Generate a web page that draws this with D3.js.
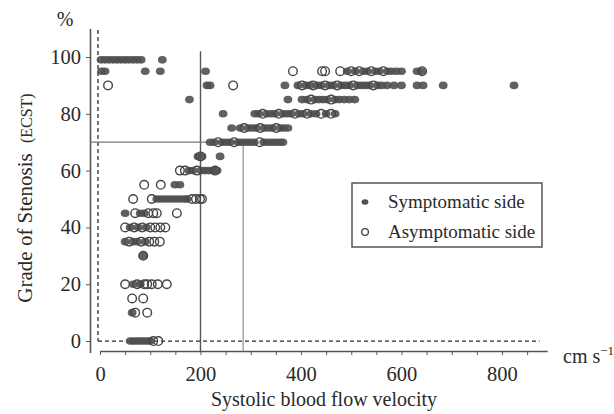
<!DOCTYPE html>
<html>
<head>
<meta charset="utf-8">
<script src="https://cdn.jsdelivr.net/npm/d3@7"></script>
<style>
  body { margin: 0; background: #fff; }
  svg { display: block; font-family: "Liberation Serif", "Times New Roman", serif; }
</style>
</head>
<body>
<svg id="chart" width="614" height="414"></svg>
<script>
// [velocity cm/s, grade of stenosis %]
const symptomatic = [
  [2, 99], [10, 99], [18, 99], [26, 99], [34, 99], [42, 99], [50, 99], [58, 99], [66, 99], [74, 99], [82, 99], [124, 99],
  [3, 95], [10, 95], [90, 95], [120, 95], [210, 95],
  [178, 85], [213, 90],
  [492, 95], [508, 95], [524, 95], [532, 95], [548, 95], [556, 95], [572, 95], [580, 95], [590, 95], [600, 95], [631, 95], [640, 95],
  [219, 90], [368, 90], [394, 90], [410, 90], [418, 90], [432, 90], [440, 90], [456, 90], [464, 90], [480, 90], [488, 90],
  [496, 90], [512, 90], [520, 90], [528, 90], [536, 90], [552, 90], [560, 90], [571, 90], [585, 90], [600, 90], [631, 90],
  [643, 90], [683, 90], [824, 90],
  [374, 85], [402, 85], [412, 85], [428, 85], [436, 85], [444, 85], [452, 85], [468, 85], [476, 85], [486, 85], [496, 85], [507, 85],
  [245, 80], [308, 80], [316, 80], [332, 80], [340, 80], [348, 80], [364, 80], [372, 80], [380, 80], [396, 80], [404, 80],
  [420, 80], [430, 80], [450, 80], [468, 80],
  [262, 75], [279, 75], [295, 75], [303, 75], [311, 75], [327, 75], [335, 75], [343, 75], [359, 75], [366, 75], [374, 75],
  [219, 70], [227, 70], [243, 70], [251, 70], [259, 70], [275, 70], [283, 70], [291, 70], [299, 70], [307, 70], [326, 70],
  [334, 70], [342, 70], [350, 70], [358, 70], [364, 70],
  [195, 65], [203, 65], [239, 65],
  [177, 60], [185, 60], [201, 60], [209, 60], [217, 60], [225, 60], [233, 60],
  [149, 55], [159, 55],
  [113, 50], [121, 50], [129, 50], [137, 50], [145, 50], [153, 50], [161, 50], [169, 50], [173, 50],
  [50, 45], [80, 45], [88, 45],
  [60, 40], [76, 40], [92, 40],
  [50, 35], [66, 35], [74, 35], [90, 35],
  [86, 30],
  [66, 20], [80, 20],
  [64, 10],
  [60, 0], [66, 0], [72, 0], [78, 0], [84, 0], [90, 0], [96, 0], [100, 0]
];

const asymptomatic = [
  [16, 90],
  [384, 95], [442, 95], [448, 95], [478, 95], [500, 95], [516, 95], [540, 95], [564, 95], [641, 95],
  [265, 90], [402, 90], [424, 90], [448, 90], [472, 90], [504, 90], [544, 90],
  [420, 85], [460, 85],
  [324, 80], [356, 80], [388, 80], [412, 80], [440, 80], [460, 80],
  [287, 75], [319, 75], [351, 75],
  [235, 70], [267, 70], [318, 70],
  [200, 65],
  [159, 60], [169, 60], [193, 60], [229, 60],
  [88, 55], [121, 55],
  [66, 50], [103, 50], [183, 50], [191, 50], [199, 50], [203, 50],
  [70, 45], [96, 45], [106, 45], [113, 45], [153, 45],
  [50, 40], [68, 40], [84, 40], [100, 40], [110, 40], [120, 40], [130, 40],
  [58, 35], [82, 35], [98, 35], [108, 35], [119, 35],
  [86, 30],
  [50, 20], [74, 20], [88, 20], [94, 20], [103, 20], [115, 20], [133, 20],
  [64, 15], [86, 15],
  [70, 10], [94, 10],
  [106, 0], [116, 0]
];

const yTicks = [0, 20, 40, 60, 80, 100];
const xTicks = d3.range(0, 900, 50);
const xLabels = [0, 200, 400, 600, 800];
const legendLabels = ["Symptomatic side", "Asymptomatic side"];

const svg = d3.select("#chart");
const ink = "#2a2a2a";

const x = d3.scaleLinear().domain([0, 890]).range([100, 547.2]);
const y = d3.scaleLinear().domain([-4, 110]).range([352.4, 28.6]);

// axes
const yAxis = d3.axisLeft(y)
  .tickValues(yTicks)
  .tickSize(4)
  .tickSizeOuter(0)
  .tickPadding(5);

svg.append("g")
  .attr("transform", "translate(90,0)")
  .call(yAxis)
  .call(g => g.select(".domain").attr("stroke", "#555").attr("stroke-width", 1.6))
  .call(g => g.selectAll(".tick line").attr("stroke", "#555"))
  .call(g => g.selectAll("text").attr("font-size", 20.5).attr("fill", ink).attr("font-family", "Liberation Serif"));

const xAxis = d3.axisBottom(x)
  .tickValues(xTicks)
  .tickSize(4)
  .tickSizeOuter(0)
  .tickPadding(11)
  .tickFormat(d => xLabels.includes(d) ? d : "");

svg.append("g")
  .attr("transform", "translate(0,351)")
  .call(xAxis)
  .call(g => g.select(".domain").attr("stroke", "#555").attr("stroke-width", 1.6))
  .call(g => g.selectAll(".tick line").attr("stroke", "#555"))
  .call(g => g.selectAll("text").attr("font-size", 20.5).attr("fill", ink).attr("font-family", "Liberation Serif"));

// reference lines
svg.append("line")
  .attr("x1", x(-4)).attr("x2", x(-4))
  .attr("y1", y(109.5)).attr("y2", y(0))
  .attr("stroke", ink).attr("stroke-width", 1.3).attr("stroke-dasharray", "4,3");

svg.append("line")
  .attr("x1", x(-4)).attr("x2", x(875))
  .attr("y1", y(0)).attr("y2", y(0))
  .attr("stroke", ink).attr("stroke-width", 1.3).attr("stroke-dasharray", "4,3");

svg.append("line")
  .attr("x1", x(200)).attr("x2", x(200))
  .attr("y1", y(102)).attr("y2", y(-3.5))
  .attr("stroke", "#555").attr("stroke-width", 1.4);

svg.append("line")
  .attr("x1", 90).attr("x2", x(285))
  .attr("y1", y(70)).attr("y2", y(70))
  .attr("stroke", "#777").attr("stroke-width", 1.2);

svg.append("line")
  .attr("x1", x(285)).attr("x2", x(285))
  .attr("y1", y(70)).attr("y2", y(-3.5))
  .attr("stroke", "#aaa").attr("stroke-width", 1.6);

// points
svg.append("g")
  .selectAll("ellipse")
  .data(symptomatic)
  .join("ellipse")
  .attr("cx", d => x(d[0]))
  .attr("cy", d => y(d[1]))
  .attr("rx", 4.4)
  .attr("ry", 3.8)
  .attr("fill", "#505050")
  .attr("opacity", 0.9);

svg.append("g")
  .selectAll("circle")
  .data(asymptomatic)
  .join("circle")
  .attr("cx", d => x(d[0]))
  .attr("cy", d => y(d[1]))
  .attr("r", 4.3)
  .attr("fill", "none")
  .attr("stroke", "#444")
  .attr("stroke-width", 1.4);

// legend
const legend = svg.append("g");
legend.append("rect")
  .attr("x", 352).attr("y", 183)
  .attr("width", 190).attr("height", 64)
  .attr("fill", "#fff")
  .attr("stroke", "#555").attr("stroke-width", 1.5);

legend.append("ellipse")
  .attr("cx", 365).attr("cy", 202)
  .attr("rx", 3.4).attr("ry", 2.8)
  .attr("fill", "#505050");

legend.append("circle")
  .attr("cx", 365).attr("cy", 232)
  .attr("r", 3.4)
  .attr("fill", "none")
  .attr("stroke", "#444").attr("stroke-width", 1.3);

legend.selectAll("text")
  .data(legendLabels)
  .join("text")
  .attr("x", 388)
  .attr("y", (d, i) => 208 + i * 30)
  .attr("font-size", 19)
  .attr("fill", ink)
  .text(d => d);

// axis titles
svg.append("text")
  .attr("x", 65).attr("y", 26)
  .attr("text-anchor", "middle")
  .attr("font-size", 20)
  .attr("fill", ink)
  .text("%");

const yTitle = svg.append("text")
  .attr("transform", "translate(32,198) rotate(-90)")
  .attr("text-anchor", "middle")
  .attr("font-size", 21)
  .attr("fill", ink);
yTitle.append("tspan").text("Grade of Stenosis ");
yTitle.append("tspan").attr("font-size", 16).attr("dx", 5).text("(ECST)");

svg.append("text")
  .attr("x", 324).attr("y", 406)
  .attr("text-anchor", "middle")
  .attr("font-size", 20)
  .attr("fill", ink)
  .text("Systolic blood flow velocity");

const unit = svg.append("text")
  .attr("x", 563).attr("y", 363)
  .attr("font-size", 20)
  .attr("fill", ink);
unit.append("tspan").text("cm s");
unit.append("tspan").attr("font-size", 13).attr("dy", -8).text("−1");
</script>
</body>
</html>
